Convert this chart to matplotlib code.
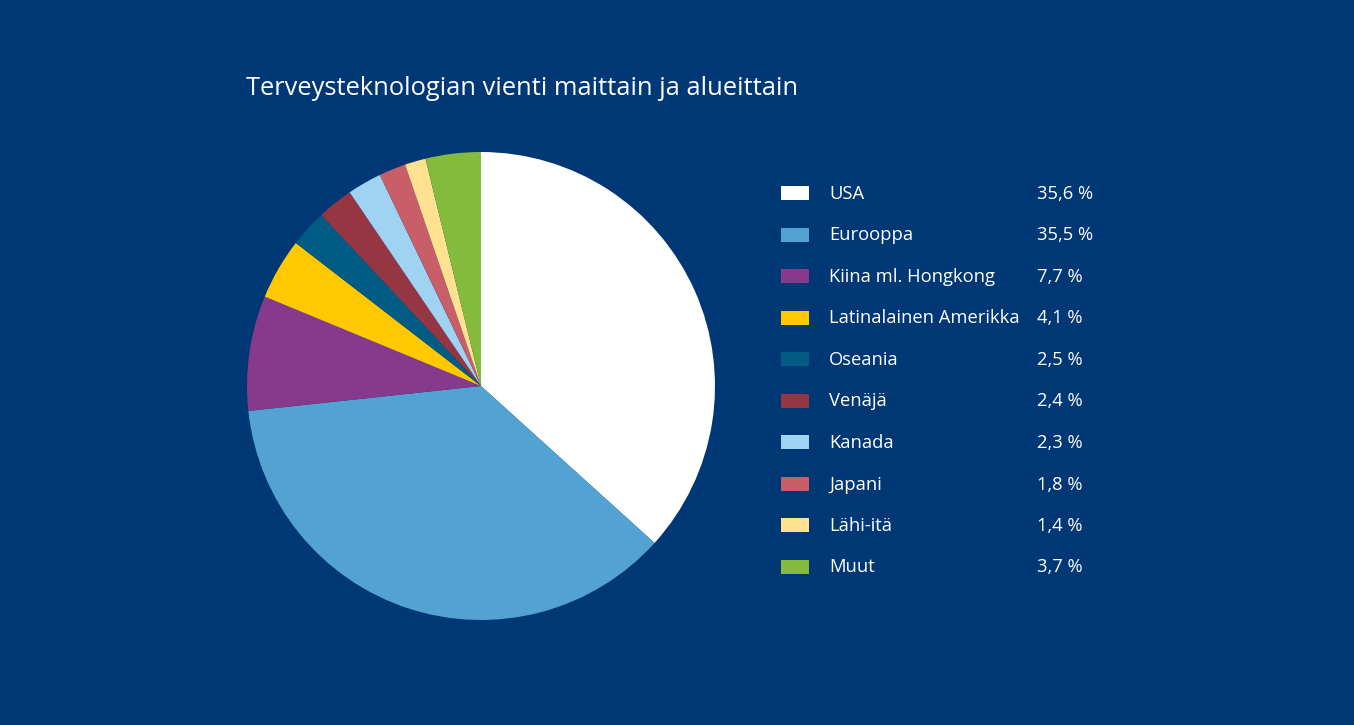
import matplotlib
matplotlib.use("Agg")
from matplotlib import pyplot as plt
from matplotlib.patches import Rectangle

plt.rcParams["font.family"] = ["Open Sans", "DejaVu Sans"]

title = "Terveysteknologian vienti maittain ja alueittain"
regions = ["USA", "Eurooppa", "Kiina ml. Hongkong", "Latinalainen Amerikka",
           "Oseania", "Venäjä", "Kanada", "Japani", "Lähi-itä", "Muut"]
shares = [35.6, 35.5, 7.7, 4.1, 2.5, 2.4, 2.3, 1.8, 1.4, 3.7]
share_labels = ["35,6 %", "35,5 %", "7,7 %", "4,1 %", "2,5 %",
                "2,4 %", "2,3 %", "1,8 %", "1,4 %", "3,7 %"]
colors = ["#FFFFFF", "#52A3D2", "#873A8C", "#FFC800", "#005C84",
          "#963643", "#A0D3F2", "#C75E68", "#FFE190", "#84BB3D"]

bg = "#003775"
W, H = 1354, 725

fig = plt.figure(figsize=(W / 100, H / 100), dpi=100, facecolor=bg)

# pie: centre (481, 386) px, radius 234 px
cx, cy, r = 481, 386, 234
ax = fig.add_axes([(cx - r) / W, (H - cy - r) / H, 2 * r / W, 2 * r / H])
ax.pie(shares, colors=colors, startangle=90, counterclock=False,
       wedgeprops=dict(linewidth=0))
ax.set_xlim(-1, 1)
ax.set_ylim(-1, 1)
ax.set_aspect("equal")
ax.axis("off")

fig.text(246 / W, 1 - 95 / H, title, color="white", fontsize=18.4,
         ha="left", va="baseline")

# legend
y0, step = 193, 41.5
for i, (name, lab, col) in enumerate(zip(regions, share_labels, colors)):
    y = y0 + i * step
    fig.patches.append(Rectangle((781 / W, 1 - (y + 7) / H), 28 / W, 14 / H,
                                 transform=fig.transFigure, facecolor=col,
                                 edgecolor="none"))
    fig.text(829 / W, 1 - (y + 6) / H, name, color="white", fontsize=13.2,
             ha="left", va="baseline")
    fig.text(1037 / W, 1 - (y + 6) / H, lab, color="white", fontsize=13.2,
             ha="left", va="baseline")

plt.savefig("out.png", facecolor=bg)
